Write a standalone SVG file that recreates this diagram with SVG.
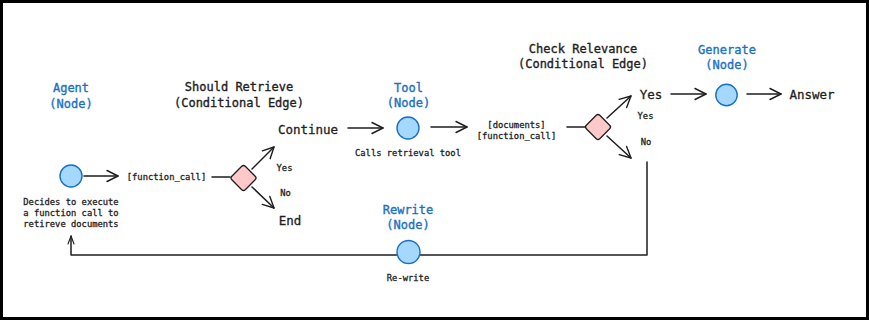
<svg xmlns="http://www.w3.org/2000/svg" width="869" height="320" viewBox="0 0 869 320">
<defs>
<marker id="ah" markerUnits="userSpaceOnUse" markerWidth="14" markerHeight="14" viewBox="0 0 14 14" refX="12" refY="7" orient="auto">
<path d="M1,1.5 L12,7 L1,12.5" fill="none" stroke="#1e1e1e" stroke-width="1.4" stroke-linecap="round" stroke-linejoin="round"/>
</marker>
<marker id="ahs" markerUnits="userSpaceOnUse" markerWidth="10" markerHeight="10" viewBox="0 0 10 10" refX="9" refY="5" orient="auto">
<path d="M1,2 L9,5 L1,8" fill="none" stroke="#1e1e1e" stroke-width="1.1" stroke-linecap="round" stroke-linejoin="round"/>
</marker>
</defs>
<style>
text{font-family:"DejaVu Sans Mono","Liberation Mono",monospace;dominant-baseline:central;text-anchor:middle;fill:#1e1e1e}
.t{font-size:12px;fill:#1971c2;stroke:#1971c2;stroke-width:0.35}
.h{font-size:12px;stroke:#1e1e1e;stroke-width:0.35}
.b{font-size:12.5px;stroke:#1e1e1e;stroke-width:0.3}
.s{font-size:8.8px;stroke:#1e1e1e;stroke-width:0.3}
.c{fill:#a5d8ff;stroke:#1971c2;stroke-width:1.4}
.d{fill:#ffc9c9;stroke:#1e1e1e;stroke-width:1.3}
.l{fill:none;stroke:#1e1e1e;stroke-width:1.5;stroke-linecap:round;stroke-linejoin:round}
</style>
<rect x="0" y="0" width="869" height="320" fill="#ffffff"/>
<rect x="1.5" y="1.5" width="866" height="317" fill="none" stroke="#000" stroke-width="3"/>
<g id="connectors">
<line class="l" x1="84" y1="176" x2="118" y2="176" marker-end="url(#ah)"/>
<line class="l" x1="212" y1="177" x2="230" y2="177"/>
<line class="l" x1="252" y1="169" x2="274" y2="147" marker-end="url(#ah)"/>
<line class="l" x1="252" y1="187" x2="274" y2="208" marker-end="url(#ah)"/>
<line class="l" x1="348" y1="128" x2="383" y2="128" marker-end="url(#ah)"/>
<line class="l" x1="431" y1="127" x2="467" y2="127" marker-end="url(#ah)"/>
<line class="l" x1="567" y1="127" x2="585" y2="127"/>
<line class="l" x1="607" y1="118" x2="631" y2="96" marker-end="url(#ah)"/>
<line class="l" x1="607" y1="136" x2="631" y2="158" marker-end="url(#ah)"/>
<line class="l" x1="671" y1="94" x2="706" y2="94" marker-end="url(#ah)"/>
<line class="l" x1="747" y1="94" x2="781" y2="94" marker-end="url(#ah)"/>
<polyline class="l" points="647,162 647,255 71,255 71,236" marker-end="url(#ahs)"/>
</g>
<g id="agent">
<text class="t" x="71" y="88">Agent</text>
<text class="t" x="71" y="104">(Node)</text>
<circle class="c" cx="71" cy="176" r="11"/>
<text class="s" x="71" y="202">Decides to execute</text>
<text class="s" x="71" y="213">a function call to</text>
<text class="s" x="71" y="224">retireve documents</text>
</g>
<g id="function-call-label">
<text class="s" x="166.5" y="177">[function_call]</text>
</g>
<g id="should-retrieve">
<text class="h" x="239" y="87">Should Retrieve</text>
<text class="h" x="239" y="103">(Conditional Edge)</text>
<rect class="d" x="-9.5" y="-9.5" width="19" height="19" rx="2.5" transform="translate(243.5,178) rotate(45)"/>
<text class="s" x="284.5" y="168">Yes</text>
<text class="s" x="285.5" y="193">No</text>
</g>
<g id="continue">
<text class="b" x="308" y="129">Continue</text>
</g>
<g id="end">
<text class="b" x="290" y="220">End</text>
</g>
<g id="tool">
<text class="t" x="408.5" y="88">Tool</text>
<text class="t" x="408.5" y="103">(Node)</text>
<circle class="c" cx="408" cy="128" r="11"/>
<text class="s" x="408" y="153">Calls retrieval tool</text>
</g>
<g id="documents-label">
<text class="s" x="516.5" y="125">[documents]</text>
<text class="s" x="516.5" y="136">[function_call]</text>
</g>
<g id="check-relevance">
<text class="h" x="583" y="49">Check Relevance</text>
<text class="h" x="583" y="64">(Conditional Edge)</text>
<rect class="d" x="-9.5" y="-9.5" width="19" height="19" rx="2.5" transform="translate(598,127) rotate(45)"/>
<text class="s" x="645.5" y="116">Yes</text>
<text class="s" x="646" y="142">No</text>
</g>
<g id="yes">
<text class="b" x="651" y="94">Yes</text>
</g>
<g id="generate">
<text class="t" x="727" y="50">Generate</text>
<text class="t" x="727" y="65">(Node)</text>
<circle class="c" cx="726.5" cy="95" r="10.7"/>
</g>
<g id="answer">
<text class="b" x="812" y="94">Answer</text>
</g>
<g id="rewrite">
<text class="t" x="408" y="210">Rewrite</text>
<text class="t" x="408" y="225">(Node)</text>
<circle class="c" cx="408.5" cy="252" r="11.5"/>
<text class="s" x="408" y="278">Re-write</text>
</g>
</svg>
